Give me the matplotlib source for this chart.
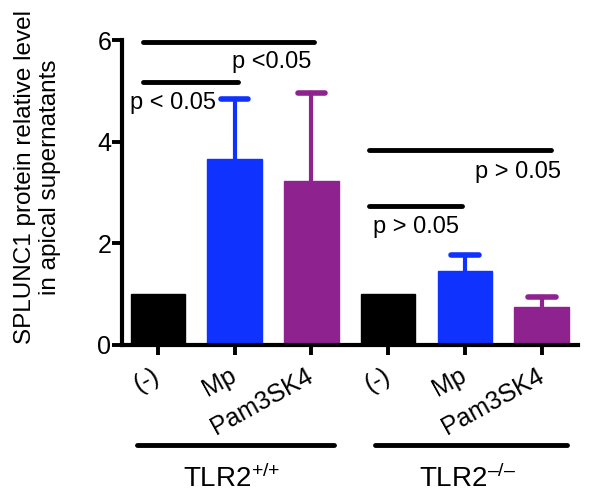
import matplotlib
matplotlib.use("Agg")
import matplotlib.pyplot as plt
import matplotlib.transforms as mtransforms

plt.rcParams['font.family'] = ['Liberation Sans', 'DejaVu Sans']
plt.rcParams['mathtext.fontset'] = 'custom'
plt.rcParams['mathtext.rm'] = 'Liberation Sans'
plt.rcParams['mathtext.it'] = 'Liberation Sans'

categories = ['(-)', 'Mp', 'Pam3SK4', '(-)', 'Mp', 'Pam3SK4']
values = [1.0, 3.66, 3.22, 1.0, 1.46, 0.75]
errors = [0.0, 1.18, 1.73, 0.0, 0.32, 0.20]
colors = ['#000000', '#0F32FF', '#8E228F', '#000000', '#0F32FF', '#8E228F']
groups = ['TLR2$^{+/{+}}$', 'TLR2$^{\u2013/\u2013}$']
yticks = [0, 2, 4, 6]
sig_texts = ['p < 0.05', 'p <0.05', 'p > 0.05', 'p > 0.05']

fig = plt.figure(figsize=(6, 5.04), dpi=100)
ax = fig.add_axes([0.203, 0.3155, 0.76, 0.605])

x = list(range(len(categories)))
ax.bar(x, values, width=0.71, color=colors, edgecolor=colors, linewidth=1, zorder=2)
cap_half = 0.18
for xi, v, e, c in zip(x, values, errors, colors):
    if e > 0:
        ax.plot([xi, xi], [v, v + e], color=c, lw=3, zorder=1, clip_on=False)
        ax.plot([xi - cap_half, xi + cap_half], [v + e, v + e], color=c, lw=4,
                solid_capstyle='round', zorder=1, clip_on=False)

ax.set_xlim(-0.47, 5.47)
ax.set_ylim(0, 6)
ax.set_yticks(yticks)
ax.set_yticklabels([str(t) for t in yticks], fontsize=18)
ax.set_xticks(x)
ax.set_xticklabels(categories, rotation=29, ha='right', va='center',
                   rotation_mode='anchor', fontsize=18)
for s in ['top', 'right']:
    ax.spines[s].set_visible(False)
for s in ['left', 'bottom']:
    ax.spines[s].set_linewidth(3)
ax.tick_params(axis='both', width=2.8, length=7, pad=0.5)
ax.tick_params(axis='x', pad=14)

# significance lines
lw = 3.5
ax.plot([-0.19, 2.04], [5.96, 5.96], color='k', lw=lw, solid_capstyle='round', clip_on=False)
ax.plot([-0.19, 1.04], [5.18, 5.18], color='k', lw=lw, solid_capstyle='round', clip_on=False)
ax.plot([2.75, 5.12], [3.84, 3.84], color='k', lw=lw, solid_capstyle='round', clip_on=False)
ax.plot([2.75, 3.96], [2.74, 2.74], color='k', lw=lw, solid_capstyle='round', clip_on=False)
ax.text(-0.36, 4.76, sig_texts[0], fontsize=17, ha='left', va='center')
ax.text(0.96, 5.57, sig_texts[1], fontsize=17, ha='left', va='center')
ax.text(4.13, 3.41, sig_texts[2], fontsize=17, ha='left', va='center')
ax.text(2.80, 2.33, sig_texts[3], fontsize=17, ha='left', va='center')

# group lines and labels
trans = mtransforms.blended_transform_factory(ax.transData, fig.transFigure)
gy = 1 - 445 / 504
for (x0, x1), lab in zip([(-0.27, 2.30), (2.83, 5.33)], groups):
    ax.plot([x0, x1], [gy, gy], color='k', lw=lw, solid_capstyle='round',
            transform=trans, clip_on=False)
    ax.text((x0 + x1) / 2 - 0.05, 1 - 479 / 504, lab, fontsize=20, ha='center', va='center',
            transform=trans)

fig.text(0.0625, 1 - 177 / 504, 'SPLUNC1 protein relative level\nin apical supernatants',
         rotation=90, ha='center', va='center', fontsize=17.5, linespacing=1.15)

fig.savefig('out.png', dpi=100)
